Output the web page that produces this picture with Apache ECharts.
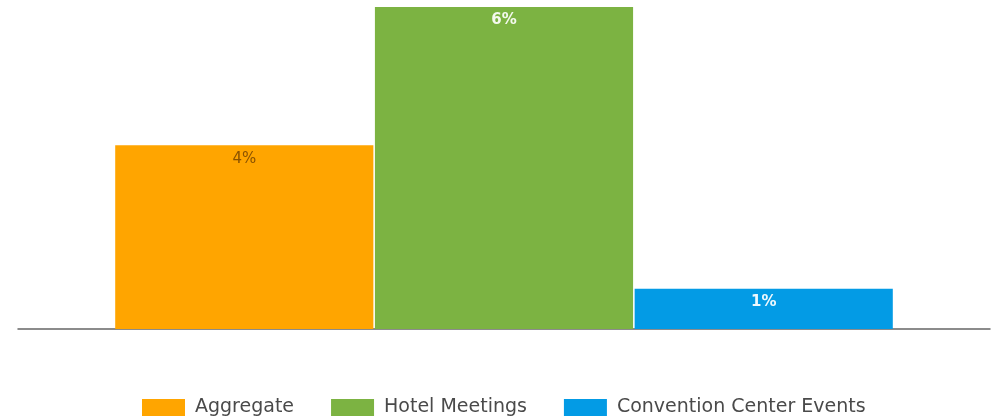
<!DOCTYPE html>
<html>
<head>
<meta charset="utf-8">
<script src="https://cdn.jsdelivr.net/npm/echarts@6/dist/echarts.min.js"></script>
<style>
  html, body { margin: 0; padding: 0; background: #fff; }
  #chart { width: 994px; height: 420px; }
</style>
</head>
<body>
<div id="chart"></div>
<script>
// Growth by segment, shown as percentages (labels rounded to whole %)
const categories = ['Growth'];
const seriesNames = ['Aggregate', 'Hotel Meetings', 'Convention Center Events'];
const seriesValues = [3.65, 6.4, 0.8];
const seriesColors = ['#ffa500', '#7cb342', '#039be5'];
const labelColors = ['#8a5200', '#f4f9ee', '#eef8fd'];
const labelWeights = ['normal', 'bold', 'bold'];

const chart = echarts.init(document.getElementById('chart'), null, { renderer: 'canvas' });

const series = seriesNames.map((name, i) => ({
  name: name,
  type: 'bar',
  data: [seriesValues[i]],
  itemStyle: { color: seriesColors[i] },
  barGap: '0.6%',
  barCategoryGap: '20%',
  label: {
    show: true,
    position: 'insideTop',
    distance: 6,
    color: labelColors[i],
    fontWeight: labelWeights[i],
    fontSize: 15,
    fontFamily: '"DejaVu Sans", sans-serif',
    formatter: p => Math.round(p.value) + '%'
  }
}));

chart.setOption({
  animation: false,
  backgroundColor: '#ffffff',
  grid: { left: 18, right: 4, top: 7, bottom: 91, containLabel: false },
  legend: {
    top: 397,
    left: 142,
    padding: 0,
    itemWidth: 43,
    itemHeight: 17,
    itemGap: 37,
    icon: 'rect',
    textStyle: {
      color: '#4a4a4a',
      fontSize: 19,
      lineHeight: 21,
      fontFamily: '"DejaVu Sans", sans-serif',
      padding: [0, 0, 0, 5]
    },
    data: seriesNames
  },
  xAxis: {
    type: 'category',
    data: categories,
    axisLine: { show: true, lineStyle: { color: '#666', width: 1.5 } },
    axisTick: { show: false },
    axisLabel: { show: false }
  },
  yAxis: {
    type: 'value',
    min: 0,
    max: 6.4,
    show: false,
    splitLine: { show: false }
  },
  series: series
});
</script>
</body>
</html>
